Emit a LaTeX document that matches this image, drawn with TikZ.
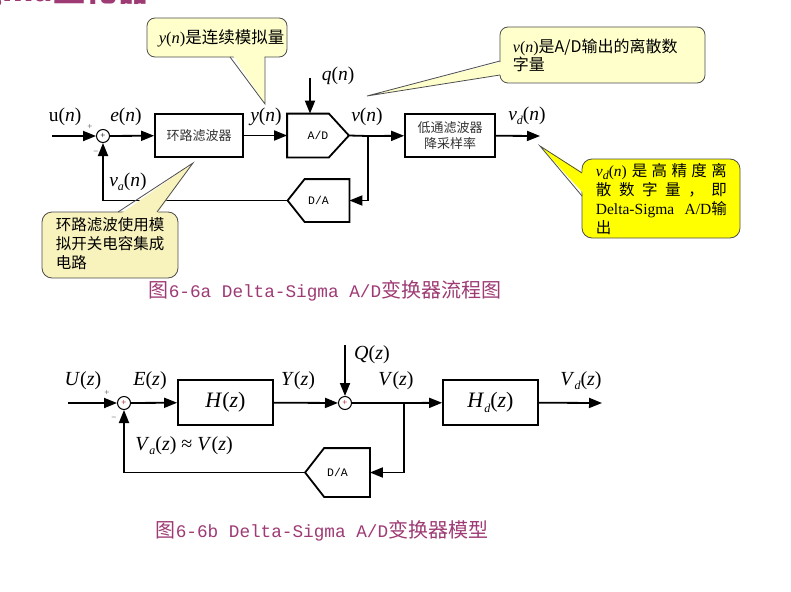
\documentclass[tikz,border=0pt]{standalone}
\usepackage{fontspec}
\setmainfont{Liberation Serif}
\newfontfamily\cjk{Noto Sans CJK SC}
\newfontfamily\capmono{Liberation Mono}
\usetikzlibrary{positioning,calc,arrows.meta}
\definecolor{capred}{HTML}{9E3A74}
\definecolor{notepale}{HTML}{FFFFCC}
\definecolor{notebeige}{HTML}{F8F2BC}
\definecolor{noteyel}{HTML}{FFFF00}
\definecolor{edgegrey}{HTML}{4D4D4D}
\newcommand\lowsub[1]{\raisebox{-0.45ex}{\fontsize{12}{12}\selectfont\itshape #1}}
\newcommand\capcjk[1]{{\cjk\fontsize{20}{20}\selectfont #1}}
\tikzset{
  blk/.style={draw,line width=1.8pt,inner sep=0,minimum width=88pt,minimum height=43pt,
    font=\cjk\fontsize{13}{16}\selectfont,text=black!80,align=center},
  sumnode/.style={draw,circle,line width=1pt,minimum size=13pt,inner sep=0,font=\fontsize{9}{9}\selectfont},
  conv/.style={inner sep=0,minimum width=60pt,minimum height=42pt,font=\capmono\fontsize{11.5}{12}\selectfont},
  sigl/.style={font=\fontsize{19.5}{22}\selectfont,inner sep=0},
  sigz/.style={font=\fontsize{20}{22}\selectfont,inner sep=0},
  sgn/.style={font=\fontsize{9}{9}\selectfont,inner sep=0,text=black!70},
  note/.style={draw=edgegrey,line width=0.8pt,rounded corners=8pt},
  notetip/.style={draw=edgegrey,line width=0.8pt},
  figcap/.style={text=capred,inner sep=0,font=\capmono\fontsize{17.7}{20}\selectfont}
}
\begin{document}
\begin{tikzpicture}[x=1pt,y=-1pt,line width=1.8pt,>={Triangle[length=13pt,width=10pt]}]
  \useasboundingbox (0,0) rectangle (791,591);
  % cut-off slide title
  \node[anchor=base east,inner sep=0,text=capred,font=\cjk\bfseries\fontsize{32}{32}\selectfont] (ttl) at (150,2) {Delta-Sigma量化器};

  % ---- Fig. 6-6a: flow ----
  \coordinate (uin) at (52,136);
  \node[sumnode] (suma) at (103,136) {+};
  \node[blk] (loopf) at (199,135.5) {环路滤波器};
  \node[conv] (ad) at (318,135.5) {A/D};
  \node[blk,minimum width=90pt] (lpf) at (450,135.5) {低通滤波器\\降采样率};
  \coordinate (vdout) at (540,136);
  \coordinate (qin) at (310,78);
  \coordinate (bra) at (368,136);
  \node[conv,minimum height=41pt] (da) at (318.5,200.5) {D/A};
  \draw (ad.north west) -- ($(ad.north east)+(-20,0)$) -- (ad.east) -- ($(ad.south east)+(-20,0)$) -- (ad.south west) -- cycle;
  \draw (da.north east) -- ($(da.north west)+(17,0)$) -- (da.west) -- ($(da.south west)+(17,0)$) -- (da.south east) -- cycle;
  \draw[->] (uin) -- (suma);
  \draw[->] (suma) -- (loopf);
  \draw[->] (loopf) -- (ad);
  \draw (ad.east) -- (bra);
  \draw[->] (bra) -- (lpf);
  \draw[->] (lpf) -- (vdout);
  \draw[->] (qin) -- (qin |- ad.north);
  \draw[->] (bra) |- (da.east);
  \draw[->] (da.west) -| (suma.south);
  \node[sigl] (un) at (65,117) {u(\textit{n})};
  \node[sgn] (pa) at (90,127) {+};
  \node[sgn] (ma) at (96,153) {\textminus};
  \node[sigl] (en) at (126,117) {\textit{e}(\textit{n})};
  \node[sigl] (yn) at (266,117) {\textit{y}(\textit{n})};
  \node[sigl] (qn) at (338,76) {\textit{q}(\textit{n})};
  \node[sigl] (vn) at (367,117) {\textit{v}(\textit{n})};
  \node[sigl] (vdn) at (527,116) {\textit{v}\lowsub{d}(\textit{n})};
  \node[sigl] (van) at (128,182) {\textit{v}\lowsub{a}(\textit{n})};

  % callouts
  \filldraw[note,fill=notepale] (147,18) rectangle (287,57);
  \fill[notepale] (232,54) -- (264.5,54) -- (265,104) -- cycle;
  \draw[notetip] (230,57) -- (265,104) -- (265,57);
  \node[anchor=west,inner sep=0,font=\fontsize{16.5}{18}\selectfont] (n1) at (158,38) {\textit{y}(\textit{n}){\cjk 是连续模拟量}};

  \filldraw[note,fill=notepale] (500,27) rectangle (705,83);
  \fill[notepale] (503,61.5) -- (503,74.5) -- (367,96) -- cycle;
  \draw[notetip] (500,61) -- (367,96) -- (500,75);
  \node[anchor=north west,inner sep=0,align=left,font=\fontsize{16}{18}\selectfont] (n2) at (512,38)
    {\textit{v}(\textit{n}){\cjk 是A/D输出的离散数}\\{\cjk 字量}};

  \filldraw[note,fill=noteyel,rounded corners=10pt] (582,159) rectangle (740,238);
  \fill[noteyel] (585,174) -- (585,195) -- (540,146) -- cycle;
  \draw[notetip] (582,173) -- (540,146) -- (582,196);
  \node[anchor=north west,inner sep=0,align=left,font=\fontsize{15.5}{19}\selectfont] (n3) at (595,162)
    {\makebox[131pt][s]{\textit{v}\lowsub{d}(\textit{n}) {\cjk 是 高 精 度 离}}\\
     \makebox[131pt][s]{\cjk 散 数 字 量 ， 即}\\
     \makebox[131pt][s]{Delta-Sigma A/D{\cjk 输}}\\
     {\cjk 出}};

  \filldraw[note,fill=notebeige,rounded corners=10pt] (42,212) rectangle (178,278);
  \fill[notebeige] (119,215) -- (156,215) -- (193,163) -- cycle;
  \draw[notetip] (118,212) -- (193,163) -- (157,212);
  \node[anchor=north west,inner sep=0,align=left,font=\cjk\fontsize{15.5}{19}\selectfont] (n4) at (55,217)
    {环路滤波使用模\\拟开关电容集成\\电路};

  \node[figcap] (capa) at (325,291) {\capcjk{图}6-6a Delta-Sigma A/D\capcjk{变换器流程图}};

  % ---- Fig. 6-6b: model ----
  \coordinate (uzin) at (68,403);
  \node[sumnode] (sumb) at (124,403) {\color{red!60!black}+};
  \node[blk,minimum width=95pt,minimum height=45pt,font=\fontsize{22}{24}\selectfont,text=black] (hz) at (225.5,402.5) {\textit{H}(\textit{z})};
  \node[sumnode] (sumq) at (345,403) {\color{red!60!black}+};
  \coordinate (qzin) at (345,345);
  \node[blk,minimum width=95pt,minimum height=45pt,font=\fontsize{22}{24}\selectfont,text=black] (hdz) at (490.5,402.5) {\textit{H}\lowsub{d}(\textit{z})};
  \coordinate (brb) at (404,403);
  \coordinate (vdzout) at (602,403);
  \node[conv,minimum width=63pt,minimum height=47pt] (dab) at (337.5,472.5) {D/A};
  \draw (dab.north east) -- ($(dab.north west)+(19,0)$) -- (dab.west) -- ($(dab.south west)+(19,0)$) -- (dab.south east) -- cycle;
  \draw[->] (uzin) -- (sumb);
  \draw[->] (sumb) -- (hz);
  \draw[->] (hz) -- (sumq);
  \draw[->] (qzin) -- (sumq);
  \draw (sumq) -- (brb);
  \draw[->] (brb) -- (hdz);
  \draw[->] (hdz) -- (vdzout);
  \draw[->] (brb) |- (dab.east);
  \draw[->] (dab.west) -| (sumb.south);
  \node[sigz] (uz) at (83,381) {\textit{U}(\textit{z})};
  \node[sgn] (pb) at (107,393) {+};
  \node[sgn] (mb) at (114,419) {\textminus};
  \node[sigz] (ez) at (150,381) {\textit{E}(\textit{z})};
  \node[sigz] (yz) at (298,381) {\textit{Y}(\textit{z})};
  \node[sigz] (qz) at (372,355) {\textit{Q}(\textit{z})};
  \node[sigz] (vz) at (396,381) {\textit{V}(\textit{z})};
  \node[sigz] (vdz) at (581,381) {\textit{V}\lowsub{d}(\textit{z})};
  \node[sigz] (vaz) at (184,446) {\textit{V}\lowsub{a}(\textit{z}) ≈ \textit{V}(\textit{z})};

  \node[figcap] (capb) at (322,531) {\capcjk{图}6-6b Delta-Sigma A/D\capcjk{变换器模型}};
\end{tikzpicture}
\end{document}
